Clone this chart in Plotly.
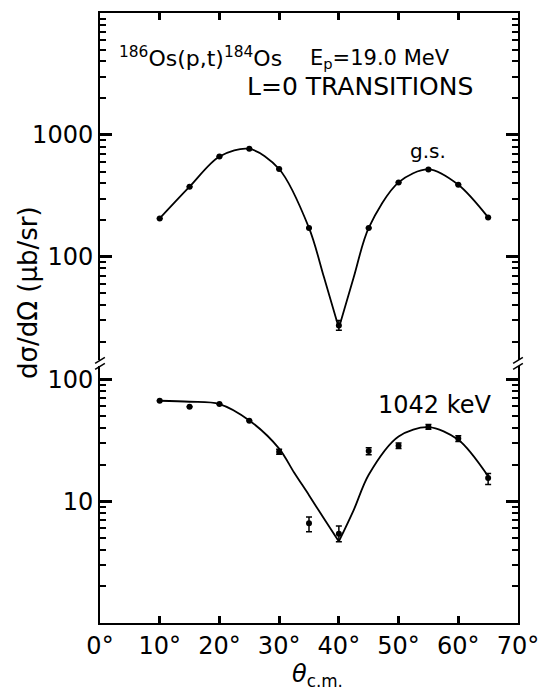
import plotly.graph_objects as go

# ---------------- data ----------------
angles = [10, 15, 20, 25, 30, 35, 40, 45, 50, 55, 60, 65]

# ground state (upper panel)
gs_vals = [206, 375, 664, 767, 524, 172, 27.2, 172, 407, 520, 389, 210]
gs_err_plus = [0, 0, 0, 0, 0, 0, 2.7, 0, 0, 0, 0, 0]
gs_err_minus = [0, 0, 0, 0, 0, 0, 2.3, 0, 0, 0, 0, 0]

gs_curve_left_x = [10, 15, 20, 25, 30, 35, 37.5, 40]
gs_curve_left_y = [206, 375, 664, 767, 524, 172, 68, 26]
gs_curve_right_x = [40, 42.5, 45, 50, 55, 60, 65]
gs_curve_right_y = [26, 68, 172, 407, 520, 389, 210]

# 1042 keV state (lower panel)
ex_vals = [66.7, 59.6, 62.7, 45.8, 25.5, 6.6, 5.4, 25.8, 28.5, 40.7, 32.7, 15.5]
ex_err_plus = [0, 0, 0, 0, 1.2, 0.8, 0.85, 1.7, 1.5, 1.8, 1.8, 1.4]
ex_err_minus = [0, 0, 0, 0, 1.2, 1.0, 0.75, 1.7, 1.5, 1.8, 1.8, 1.8]

ex_curve_left_x = [10, 15, 20, 25, 30, 32.5, 35, 37.5, 40]
ex_curve_left_y = [66.7, 65.5, 62.7, 46, 27, 17.2, 11.2, 7.2, 4.67]
ex_curve_right_x = [40, 42.5, 45, 50, 55, 60, 65]
ex_curve_right_y = [4.67, 8.5, 16.5, 34, 40.5, 31.9, 16.0]

x_ticks = [0, 10, 20, 30, 40, 50, 60, 70]
x_ticktext = ["0°", "10°", "20°", "30°", "40°", "50°", "60°", "70°"]

low_major = [10, 100]
low_major_text = ["10", "100"]
up_major = [100, 1000]
up_major_text = ["100", "1000"]
low_minor = [2, 3, 4, 5, 6, 7, 8, 9, 20, 30, 40, 50, 60, 70, 80, 90]
up_minor = [20, 30, 40, 50, 60, 70, 80, 90, 200, 300, 400, 500, 600, 700,
            800, 900, 2000, 3000, 4000, 5000, 6000, 7000, 8000, 9000]

LOW_RANGE = [0, 2.106]
UP_RANGE = [1.148, 4.0]

# ---------------- figure ----------------
FONT = "DejaVu Sans"
fig = go.Figure()

def add_points(x, y, ep, em, xa, ya):
    fig.add_trace(go.Scatter(
        x=x, y=y, mode="markers", xaxis=xa, yaxis=ya,
        marker=dict(color="black", size=6),
        error_y=dict(type="data", symmetric=False, array=ep, arrayminus=em,
                     color="black", thickness=1.5, width=3),
        showlegend=False))

def add_curve(x, y, xa, ya):
    fig.add_trace(go.Scatter(
        x=x, y=y, mode="lines", xaxis=xa, yaxis=ya,
        line=dict(color="black", width=1.8, shape="spline", smoothing=0.9),
        showlegend=False, hoverinfo="skip"))

add_curve(gs_curve_left_x, gs_curve_left_y, "x2", "y2")
add_curve(gs_curve_right_x, gs_curve_right_y, "x2", "y2")
add_points(angles, gs_vals, gs_err_plus, gs_err_minus, "x2", "y2")

add_curve(ex_curve_left_x, ex_curve_left_y, "x", "y")
add_curve(ex_curve_right_x, ex_curve_right_y, "x", "y")
add_points(angles, ex_vals, ex_err_plus, ex_err_minus, "x", "y")

# empty traces so the minor-tick overlay axes are drawn
for xa, ya in (("x", "y3"), ("x2", "y4")):
    fig.add_trace(go.Scatter(x=[], y=[], xaxis=xa, yaxis=ya, mode="markers",
                             showlegend=False, hoverinfo="skip"))

axis_common = dict(showgrid=False, zeroline=False, showline=True,
                   linecolor="black", linewidth=2, ticks="inside",
                   tickcolor="#000000", tickwidth=2.5,
                   tickfont=dict(family=FONT, size=24, color="black"))

minor_common = dict(showgrid=False, zeroline=False, showline=True,
                    linecolor="black", linewidth=2, ticks="inside",
                    tickcolor="#000000", tickwidth=2, ticklen=6,
                    showticklabels=False, mirror="ticks", type="log")

fig.update_layout(
    width=551, height=690,
    margin=dict(l=100, r=24, t=12, b=67),
    paper_bgcolor="white", plot_bgcolor="white",
    xaxis=dict(axis_common, range=[0, 70], anchor="y", domain=[0, 1],
               tickvals=x_ticks, ticktext=x_ticktext, ticklen=7,
               mirror=False, side="bottom"),
    xaxis2=dict(axis_common, range=[0, 70], anchor="y2", domain=[0, 1],
                tickvals=x_ticks, ticklen=7, showticklabels=False,
                mirror=False, side="top"),
    yaxis=dict(axis_common, type="log", range=LOW_RANGE, domain=[0, 0.4206],
               tickvals=low_major, ticktext=low_major_text,
               ticklen=12, mirror="ticks", anchor="x"),
    yaxis2=dict(axis_common, type="log", range=UP_RANGE, domain=[0.4304, 1],
                tickvals=up_major, ticktext=up_major_text,
                ticklen=12, mirror="ticks", anchor="x2"),
    yaxis3=dict(minor_common, range=LOW_RANGE, overlaying="y", anchor="x",
                tickvals=low_minor),
    yaxis4=dict(minor_common, range=UP_RANGE, overlaying="y2", anchor="x2",
                tickvals=up_minor),
)

def px_x(px):
    return (px - 100) / 427.0

def px_y(py):
    return (623 - py) / 611.0

annotations = [
    dict(text="<sup>186</sup>Os(p,t)<sup>184</sup>Os", x=px_x(117), y=px_y(56),
         xanchor="left", yanchor="middle", font=dict(size=22)),
    dict(text="E<sub>p</sub>=19.0 MeV", x=px_x(312), y=px_y(58),
         xanchor="left", yanchor="middle", font=dict(size=21)),
    dict(text="L=0 TRANSITIONS", x=px_x(248), y=px_y(86),
         xanchor="left", yanchor="middle", font=dict(size=25)),
    dict(text="g.s.", x=px_x(435), y=px_y(150),
         xanchor="center", yanchor="middle", font=dict(size=20)),
    dict(text="1042 keV", x=px_x(382), y=px_y(405),
         xanchor="left", yanchor="middle", font=dict(size=24)),
    dict(text="dσ/dΩ (μb/sr)", x=px_x(26), y=px_y(292), textangle=-90,
         xanchor="center", yanchor="middle", font=dict(size=26)),
    dict(text="<i>θ</i><sub>c.m.</sub>", x=px_x(322), y=px_y(676),
         xanchor="center", yanchor="middle", font=dict(size=24)),
]
for a in annotations:
    a.update(xref="paper", yref="paper", showarrow=False)
    a["font"].update(family=FONT, color="black")
fig.update_layout(annotations=annotations)

# axis break marks
shapes = []
for xp in (0, 1):
    for ybreak in (px_y(360), px_y(366)):
        shapes.append(dict(type="line", xref="paper", yref="paper",
                           x0=xp - 5 / 427.0, y0=ybreak - 3 / 611.0,
                           x1=xp + 5 / 427.0, y1=ybreak + 3 / 611.0,
                           line=dict(color="black", width=1.5)))
fig.update_layout(shapes=shapes)

fig.write_html("out.html")
